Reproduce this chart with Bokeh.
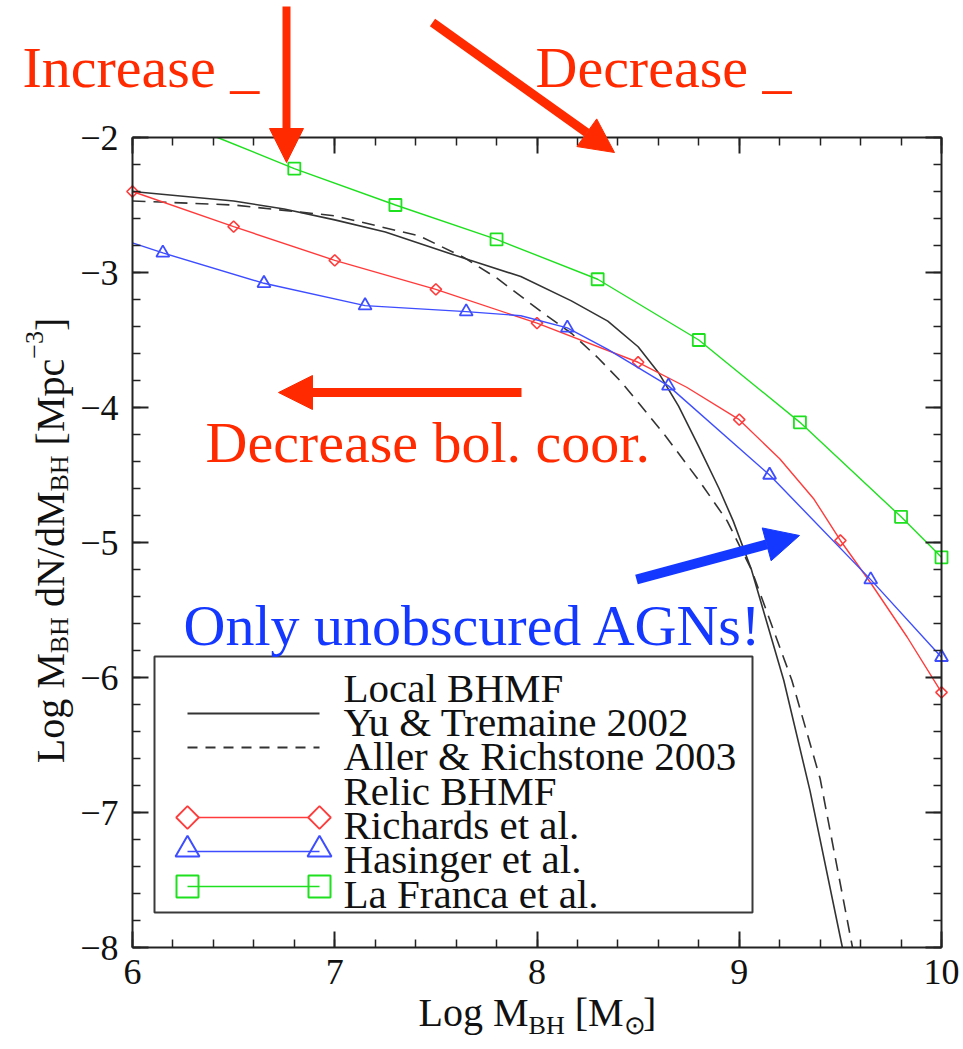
import glob
import math

from bokeh.embed import file_html
from bokeh.models import (Arrow, BoxAnnotation, CustomJSTickFormatter, Label,
                          LinearAxis, NormalHead, Range1d, SingleIntervalTicker)
from bokeh.plotting import figure
from bokeh.resources import INLINE

# ---------------------------------------------------------------- data
# Local BHMF, Yu & Tremaine 2002 (solid)
yu_x = [6.0, 6.5, 6.75, 7.0, 7.25, 7.45, 7.67, 7.92, 8.17, 8.35, 8.5, 8.6,
        8.7, 8.8, 8.9, 8.97, 9.06, 9.22, 9.35, 9.51]
yu_y = [-2.40, -2.47, -2.53, -2.61, -2.70, -2.80, -2.91, -3.03, -3.21, -3.36,
        -3.55, -3.74, -3.99, -4.29, -4.60, -4.84, -5.20, -6.02, -6.84, -8.0]

# Local BHMF, Aller & Richstone 2003 (dashed)
ar_x = [6.0, 6.5, 7.0, 7.42, 7.64, 7.80, 8.03, 8.17, 8.30, 8.41, 8.51, 8.64,
        8.81, 8.94, 9.06, 9.26, 9.40, 9.56]
ar_y = [-2.47, -2.50, -2.58, -2.73, -2.89, -3.04, -3.30, -3.45, -3.63, -3.80,
        -3.98, -4.22, -4.56, -4.84, -5.20, -6.02, -6.75, -8.0]

# Relic BHMF, Richards et al.
rich_x = [6.0, 6.5, 7.0, 7.5, 8.0, 8.5, 9.0, 9.5, 10.0]
rich_y = [-2.40, -2.66, -2.91, -3.125, -3.375, -3.665, -4.09, -4.985, -6.11]
rich_line_x = [6.0, 6.5, 7.0, 7.5, 8.0, 8.5, 8.74, 9.0, 9.2, 9.37, 9.5, 9.65,
               9.83, 10.0]
rich_line_y = [-2.40, -2.66, -2.91, -3.125, -3.375, -3.665, -3.85, -4.09,
               -4.38, -4.68, -4.985, -5.30, -5.70, -6.11]

# Relic BHMF, Hasinger et al.
has_x = [6.15, 6.65, 7.15, 7.65, 8.15, 8.65, 9.15, 9.65, 10.0]
has_y = [-2.855, -3.08, -3.245, -3.29, -3.41, -3.84, -4.50, -5.275, -5.85]
has_line_x = [6.0, 6.15, 6.65, 7.15, 7.65, 7.92, 8.15, 8.35, 8.65, 9.15,
              9.65, 10.0]
has_line_y = [-2.78, -2.855, -3.08, -3.245, -3.29, -3.32, -3.41, -3.57, -3.84,
              -4.50, -5.275, -5.85]

# Relic BHMF, La Franca et al. (the curve enters the box at x = 6.42)
lf_x = [6.8, 7.3, 7.8, 8.3, 8.8, 9.3, 9.8, 10.0]
lf_y = [-2.23, -2.50, -2.755, -3.05, -3.50, -4.11, -4.81, -5.11]
lf_line_x = [6.42] + lf_x
lf_line_y = [-2.0] + lf_y

x_ticks = [6, 7, 8, 9, 10]
x_tick_labels = ["6", "7", "8", "9", "10"]
y_ticks = [-8, -7, -6, -5, -4, -3, -2]
y_tick_labels = ["\u22128", "\u22127", "\u22126", "\u22125", "\u22124",
                 "\u22123", "\u22122"]

legend_rows = ["Local BHMF", "Yu & Tremaine 2002", "Aller & Richstone 2003",
               "Relic BHMF", "Richards et al.", "Hasinger et al.",
               "La Franca et al."]

# ---------------------------------------------------------------- layout
W, H = 963, 1049
FL, FR, FT, FB = 132, 941, 137, 947          # axis box edges in pixels
XMIN, XMAX, YMIN, YMAX = 6.0, 10.0, -8.0, -2.0

SERIF = "Liberation Serif"
RED_NOTE = "#ff2a00"
BLUE_NOTE = "#1438ff"
C_RED = "#ff3b3b"
C_BLUE = "#3d4dff"
C_GREEN = "#1fe01f"
C_BLACK = "#333333"
C_AXIS = "#222222"


def dx(px):
    """pixel column -> data x"""
    return XMIN + (px - FL) * (XMAX - XMIN) / (FR - FL)


def dy(py):
    """pixel row -> data y"""
    return YMAX - (py - FT) * (YMAX - YMIN) / (FB - FT)


def _font_path():
    for root in ("/usr/share/fonts", "/usr/local/share/fonts", "/usr/share"):
        hits = glob.glob(root + "/**/LiberationSerif-Regular.ttf", recursive=True)
        if hits:
            return hits[0]
    return None


_FP = _font_path()
_font_cache = {}


def text_width(s, size):
    if s == "\u2299":
        return 0.75 * size
    if _FP is not None:
        try:
            from PIL import ImageFont
            if size not in _font_cache:
                _font_cache[size] = ImageFont.truetype(_FP, size)
            return _font_cache[size].getlength(s)
        except Exception:
            pass
    return 0.5 * size * len(s)


# The frame spans the whole canvas; the four axes sit at fixed data
# locations and together draw the box around the 6..10 x -8..-2 region.
p = figure(width=W, height=H, x_range=Range1d(dx(0), dx(W)),
           y_range=Range1d(dy(H), dy(0)), output_backend="svg",
           toolbar_location=None, x_axis_location=None, y_axis_location=None,
           min_border=0, background_fill_color="white",
           border_fill_color="white")
p.grid.visible = False
p.outline_line_color = None


def make_axis(loc, bounds, labels=None, standoff=0):
    ax = LinearAxis(ticker=SingleIntervalTicker(interval=1, num_minor_ticks=5),
                    fixed_location=loc, bounds=bounds)
    ax.axis_line_color = C_AXIS
    ax.axis_line_width = 2
    ax.major_tick_line_color = C_AXIS
    ax.major_tick_line_width = 2
    ax.minor_tick_line_color = C_AXIS
    ax.minor_tick_line_width = 1.5
    ax.major_tick_in = 16
    ax.major_tick_out = 0
    ax.minor_tick_in = 8
    ax.minor_tick_out = 0
    ax.major_label_text_font = SERIF
    ax.major_label_text_font_size = "36px"
    ax.major_label_text_color = "#111111"
    ax.major_label_standoff = standoff
    if labels is None:
        ax.formatter = CustomJSTickFormatter(code="return ''")
    else:
        ax.major_label_overrides = labels
    return ax


p.add_layout(make_axis(YMIN, (XMIN, XMAX), dict(zip(x_ticks, x_tick_labels)), 12), "below")
p.add_layout(make_axis(XMIN, (YMIN, YMAX), dict(zip(y_ticks, y_tick_labels)), 14), "left")
p.add_layout(make_axis(YMAX, (XMIN, XMAX)), "above")
p.add_layout(make_axis(XMAX, (YMIN, YMAX)), "right")

# ---------------------------------------------------------------- curves
p.line(yu_x, yu_y, line_color=C_BLACK, line_width=1.6)
p.line(ar_x, ar_y, line_color=C_BLACK, line_width=1.6, line_dash="13 8")

p.line(rich_line_x, rich_line_y, line_color=C_RED, line_width=1.4)
p.scatter(rich_x, rich_y, marker="square", angle=math.pi / 4, size=8,
          line_color=C_RED, line_width=1.6, fill_alpha=0)

p.line(has_line_x, has_line_y, line_color=C_BLUE, line_width=1.4)
p.scatter(has_x, has_y, marker="triangle", size=13, line_color=C_BLUE,
          line_width=1.8, fill_alpha=0)

p.line(lf_line_x, lf_line_y, line_color=C_GREEN, line_width=1.4)
p.scatter(lf_x, lf_y, marker="square", size=12, line_color=C_GREEN,
          line_width=1.8, fill_alpha=0)

# ---------------------------------------------------------------- legend
p.add_layout(BoxAnnotation(left=dx(154), right=dx(752), top=dy(656),
                           bottom=dy(912), fill_alpha=0, line_alpha=1,
                           line_color="#3a3a3a", line_width=2))

row_base = [687, 721, 755, 790, 824, 858, 893]
for txt, base in zip(legend_rows, row_base):
    p.add_layout(Label(x=dx(343), y=dy(base), text=txt, text_font=SERIF,
                       text_font_size="41px", text_color="#111111",
                       text_baseline="alphabetic", text_align="left"))

gx = [dx(187), dx(319)]
p.line(gx, [dy(713)] * 2, line_color=C_BLACK, line_width=1.8)
p.line(gx, [dy(747)] * 2, line_color=C_BLACK, line_width=1.8, line_dash="10 8")
p.line(gx, [dy(817)] * 2, line_color=C_RED, line_width=1.6)
p.scatter(gx, [dy(817)] * 2, marker="square", angle=math.pi / 4, size=16,
          line_color=C_RED, line_width=1.8, fill_color="white")
p.line(gx, [dy(851)] * 2, line_color=C_BLUE, line_width=1.6)
p.scatter(gx, [dy(849)] * 2, marker="triangle", size=24, line_color=C_BLUE,
          line_width=2, fill_alpha=0)
p.line(gx, [dy(886)] * 2, line_color=C_GREEN, line_width=1.6)
p.scatter(gx, [dy(886)] * 2, marker="square", size=22, line_color=C_GREEN,
          line_width=2, fill_alpha=0)

# ---------------------------------------------------------------- axis titles
# Titles with sub/superscripts are assembled from several text pieces;
# leading blanks are turned into an advance so SVG whitespace collapsing
# does not shift the pieces.  Pieces are anchored on their vertical middle.


def _split(t):
    body = t.lstrip(" ")
    return t[:len(t) - len(body)], body


def hlabel(pieces, cx, base):
    total = sum(text_width(t, s) for t, s, _ in pieces)
    x = cx - total / 2
    for t, s, shift in pieces:
        lead, body = _split(t)
        x += text_width(lead, s) if lead else 0
        mid = base + shift - 0.34 * s
        p.add_layout(Label(x=dx(x), y=dy(mid), text=body, text_font=SERIF,
                           text_font_size=f"{s}px", text_color="#111111",
                           text_baseline="middle", text_align="left"))
        x += text_width(body, s)


def vlabel(pieces, base_x, cy):
    total = sum(text_width(t, s) for t, s, _ in pieces)
    y = cy + total / 2
    for t, s, shift in pieces:
        lead, body = _split(t)
        y -= text_width(lead, s) if lead else 0
        p.add_layout(Label(x=dx(base_x + shift), y=dy(y), text=body,
                           angle=math.pi / 2, text_font=SERIF,
                           text_font_size=f"{s}px", text_color="#111111",
                           text_baseline="alphabetic", text_align="left"))
        y -= text_width(body, s)


hlabel([("Log M", 40, 0), ("BH", 26, 8), (" [M", 40, 0), ("\u2299", 26, 8),
        ("]", 40, 0)], 537, 1026)
vlabel([("Log M", 40, 0), ("BH", 26, 9), (" dN/dM", 40, 0), ("BH", 26, 9),
        (" [Mpc", 40, 0), ("\u22123", 26, -16), ("]", 40, 0)], 50, 540)

# ---------------------------------------------------------------- notes


def note(txt, px, base, color):
    p.add_layout(Label(x=dx(px), y=dy(base), text=txt, text_font=SERIF,
                       text_font_size="58px", text_color=color,
                       text_baseline="alphabetic", text_align="left"))


def arrow(x0, y0, x1, y1, color, width):
    p.add_layout(Arrow(end=NormalHead(size=34, fill_color=color, line_color=color,
                                      line_width=1),
                       x_start=dx(x0), y_start=dy(y0), x_end=dx(x1), y_end=dy(y1),
                       line_color=color, line_width=width))


note("Increase _", 22, 67, RED_NOTE)
note("Decrease _", 535, 67, RED_NOTE)
note("Decrease bol. coor.", 205, 442, RED_NOTE)
note("Only unobscured AGNs!", 183, 625, BLUE_NOTE)

arrow(286, 6, 286, 162, RED_NOTE, 8)
arrow(432, 22, 614, 152, RED_NOTE, 9)
arrow(521, 392, 278, 392, RED_NOTE, 9)
arrow(636, 579, 799, 535, BLUE_NOTE, 10)

open("out.html", "w").write(file_html(p, INLINE))
